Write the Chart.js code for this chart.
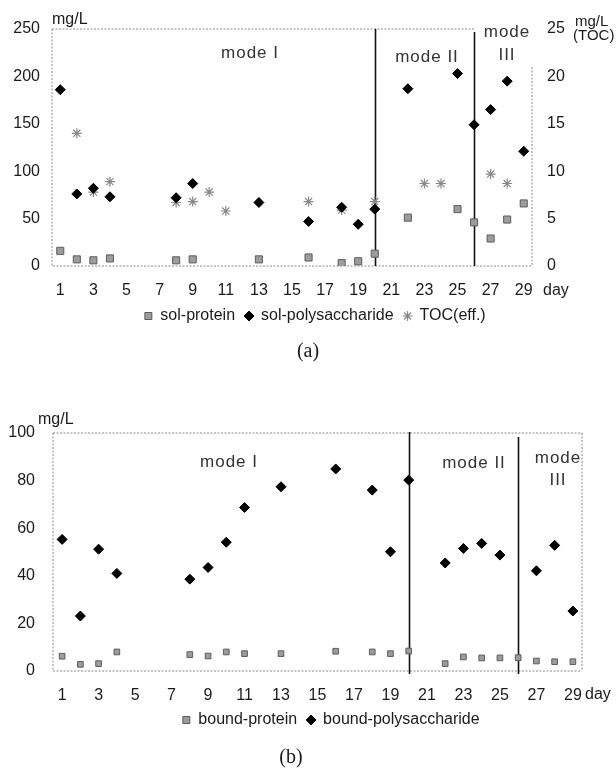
<!DOCTYPE html>
<html>
<head>
<meta charset="utf-8">
<script src="https://cdn.jsdelivr.net/npm/chart.js@4.4.1/dist/chart.umd.min.js"></script>
<style>
  body { margin: 0; background: #fff; }
  canvas { display: block; }
</style>
</head>
<body>
<canvas id="chartA" width="616" height="375"></canvas>
<canvas id="chartB" width="616" height="395"></canvas>
<script>
// days 1..29 (category axis, odd days labelled)
const days = ['1','2','3','4','5','6','7','8','9','10','11','12','13','14','15',
              '16','17','18','19','20','21','22','23','24','25','26','27','28','29'];

// (a) soluble fractions, mg/L ; TOC on right axis
const solProtein = [16, 7, 6, 8, null, null, null, 6, 7, null, null, null, 7, null, null,
                    9, null, 3, 5, 13, null, 51, null, null, 60, 46, 29, 49, 66];
const solPoly    = [186, 76, 82, 73, null, null, null, 72, 87, null, null, null, 67, null, null,
                    47, null, 62, 44, 60, null, 187, null, null, 203, 149, 165, 195, 121];
const tocEff     = [null, 14.0, 7.8, 8.9, null, null, null, 6.7, 6.8, 7.8, 5.8, null, null, null, null,
                    6.8, null, 5.9, null, 6.8, null, null, 8.7, 8.7, null, null, 9.7, 8.7, null];

// (b) bound fractions, mg/L
const boundProtein = [6.2, 2.8, 3.1, 8, null, null, null, 6.9, 6.3, 8, 7.3, null, 7.3, null, null,
                      8.3, null, 8, 7.3, 8.4, null, 3.1, 5.9, 5.5, 5.5, 5.6, 4.2, 3.9, 3.9];
const boundPoly    = [55.3, 23.1, 51.2, 41, null, null, null, 38.6, 43.5, 54.1, 68.7, null, 77.4, null, null,
                      84.9, null, 76, 50.1, 80.2, null, 45.4, 51.5, 53.6, 48.7, null, 42.1, 52.8, 25.2];

const modeDays = ['20', '26'];

Chart.defaults.font.family = '"Liberation Sans", Arial, sans-serif';
Chart.defaults.color = '#1a1a1a';

// borders, mode separators and free texts
const extras = {
  id: 'extras',
  afterLayout(chart, args, opts) {
    if (opts.legendShift && chart.legend) {
      chart.legend.left += opts.legendShift;
      chart.legend.right += opts.legendShift;
    }
  },
  beforeDatasetsDraw(chart, args, opts) {
    const { ctx, chartArea: a, scales } = chart;
    const x = scales.x;
    ctx.save();
    ctx.strokeStyle = '#8a8a8a';
    ctx.lineWidth = 1;
    ctx.setLineDash([2, 1.5]);
    ctx.beginPath();
    const topEnd = opts.topTo ? x.getPixelForValue(days.indexOf(opts.topTo)) : a.right;
    ctx.moveTo(a.left, a.top); ctx.lineTo(topEnd, a.top);
    ctx.moveTo(a.left, a.top); ctx.lineTo(a.left, a.bottom); ctx.lineTo(a.right, a.bottom);
    ctx.moveTo(a.right, a.top + (opts.rightFrom || 0)); ctx.lineTo(a.right, a.bottom);
    ctx.stroke();
    ctx.setLineDash([]);
    ctx.strokeStyle = '#111';
    ctx.lineWidth = 1.6;
    modeDays.forEach((d, i) => {
      const px = Math.round(x.getPixelForValue(days.indexOf(d))) + 0.5;
      ctx.beginPath();
      ctx.moveTo(px, a.top + (opts.lineTop ? opts.lineTop[i] : 0));
      ctx.lineTo(px, a.bottom + (opts.lineBelow || 0));
      ctx.stroke();
    });
    ctx.restore();
  },
  afterDraw(chart, args, opts) {
    const { ctx } = chart;
    ctx.save();
    ctx.textBaseline = 'middle';
    (opts.texts || []).forEach(t => {
      ctx.font = (t.size || 16) + 'px "Liberation Sans", Arial, sans-serif';
      ctx.fillStyle = t.color || '#1a1a1a';
      ctx.textAlign = t.align || 'left';
      ctx.letterSpacing = (t.spacing || 0) + 'px';
      ctx.fillText(t.t, t.x, t.y);
    });
    ctx.restore();
  }
};

const noGrid = { display: false, drawTicks: false };
const oddTicks = function (v, i) { return i % 2 === 0 ? this.getLabelForValue(v) : ''; };

new Chart(document.getElementById('chartA'), {
  type: 'line',
  data: {
    labels: days,
    datasets: [
      { label: 'sol-protein', data: solProtein, yAxisID: 'y', showLine: false,
        pointStyle: 'rect', pointRadius: 5, backgroundColor: '#9c9c9c', borderColor: '#5c5c5c',
        borderWidth: 1, pointBorderWidth: 1 },
      { label: 'sol-polysaccharide', data: solPoly, yAxisID: 'y', showLine: false,
        pointStyle: 'rectRot', pointRadius: 5, backgroundColor: '#000', borderColor: '#000',
        borderWidth: 1, pointBorderWidth: 1 },
      { label: 'TOC(eff.)', data: tocEff, yAxisID: 'y2', showLine: false,
        pointStyle: 'star', pointRadius: 5, backgroundColor: '#888', borderColor: '#888',
        borderWidth: 1.2, pointBorderWidth: 1.2 }
    ]
  },
  options: {
    responsive: false,
    animation: false,
    layout: { padding: { top: 29, bottom: 11 } },
    scales: {
      x: { offset: true, grid: { ...noGrid, offset: true }, border: { display: false },
           ticks: { autoSkip: false, maxRotation: 0, padding: 15, font: { size: 16 }, callback: oddTicks },
           afterFit(s) { s.height = 32; } },
      y: { position: 'left', min: 0, max: 250, grid: noGrid, border: { display: false },
           ticks: { stepSize: 50, padding: 12, font: { size: 16 } },
           afterFit(s) { s.width = 52; } },
      y2: { position: 'right', min: 0, max: 25, grid: noGrid, border: { display: false },
            ticks: { stepSize: 5, padding: 15, font: { size: 16 } },
            afterFit(s) { s.width = 84; } }
    },
    plugins: {
      legend: { position: 'bottom',
                labels: { usePointStyle: true, boxWidth: 8, boxHeight: 7, padding: 10, font: { size: 16 } } },
      title: { display: true, position: 'bottom', text: '(a)', color: '#1a1a1a',
               font: { family: '"Liberation Serif", "Times New Roman", serif', size: 20, weight: 'normal' },
               padding: { top: 6, bottom: 0 } },
      tooltip: { enabled: false },
      extras: {
        topTo: '26', rightFrom: 38, lineTop: [0, 3], legendShift: 7,
        texts: [
          { t: 'mode I', x: 250, y: 53, size: 17, align: 'center', spacing: 1, color: '#333' },
          { t: 'mode II', x: 427, y: 57, size: 17, align: 'center', spacing: 1, color: '#333' },
          { t: 'mode', x: 507, y: 32, size: 17, align: 'center', spacing: 1, color: '#333' },
          { t: 'III', x: 507, y: 55, size: 17, align: 'center', spacing: 1, color: '#333' },
          { t: 'mg/L', x: 52, y: 20, size: 16 },
          { t: 'mg/L', x: 575, y: 22, size: 15 },
          { t: '(TOC)', x: 573, y: 36, size: 15 },
          { t: 'day', x: 543, y: 291, size: 16 }
        ]
      }
    }
  },
  plugins: [extras]
});

new Chart(document.getElementById('chartB'), {
  type: 'line',
  data: {
    labels: days,
    datasets: [
      { label: 'bound-protein', data: boundProtein, showLine: false,
        pointStyle: 'rect', pointRadius: 4, backgroundColor: '#9c9c9c', borderColor: '#5c5c5c',
        borderWidth: 1, pointBorderWidth: 1 },
      { label: 'bound-polysaccharide', data: boundPoly, showLine: false,
        pointStyle: 'rectRot', pointRadius: 5, backgroundColor: '#000', borderColor: '#000',
        borderWidth: 1, pointBorderWidth: 1 }
    ]
  },
  options: {
    responsive: false,
    animation: false,
    layout: { padding: { top: 58, right: 34, bottom: 0 } },
    scales: {
      x: { offset: true, grid: { ...noGrid, offset: true }, border: { display: false },
           ticks: { autoSkip: false, maxRotation: 0, padding: 15, font: { size: 16 }, callback: oddTicks },
           afterFit(s) { s.height = 31; } },
      y: { position: 'left', min: 0, max: 100, grid: noGrid, border: { display: false },
           ticks: { stepSize: 20, padding: 18, font: { size: 16 } },
           afterFit(s) { s.width = 53; } }
    },
    plugins: {
      legend: { position: 'bottom',
                labels: { usePointStyle: true, boxWidth: 8, boxHeight: 7, padding: 10, font: { size: 16 } } },
      title: { display: true, position: 'bottom', text: '(b)', color: '#1a1a1a',
               font: { family: '"Liberation Serif", "Times New Roman", serif', size: 20, weight: 'normal' },
               padding: { top: 8, bottom: 0 } },
      tooltip: { enabled: false },
      extras: {
        lineTop: [-1, 4], lineBelow: 3, legendShift: 40,
        texts: [
          { t: 'mode I', x: 229, y: 87, size: 17, align: 'center', spacing: 1, color: '#333' },
          { t: 'mode II', x: 474, y: 88, size: 17, align: 'center', spacing: 1, color: '#333' },
          { t: 'mode', x: 558, y: 83, size: 17, align: 'center', spacing: 1, color: '#333' },
          { t: 'III', x: 558, y: 105, size: 17, align: 'center', spacing: 1, color: '#333' },
          { t: 'mg/L', x: 38, y: 45, size: 16 },
          { t: 'day', x: 585, y: 320, size: 16 }
        ]
      }
    }
  },
  plugins: [extras]
});
</script>
</body>
</html>
